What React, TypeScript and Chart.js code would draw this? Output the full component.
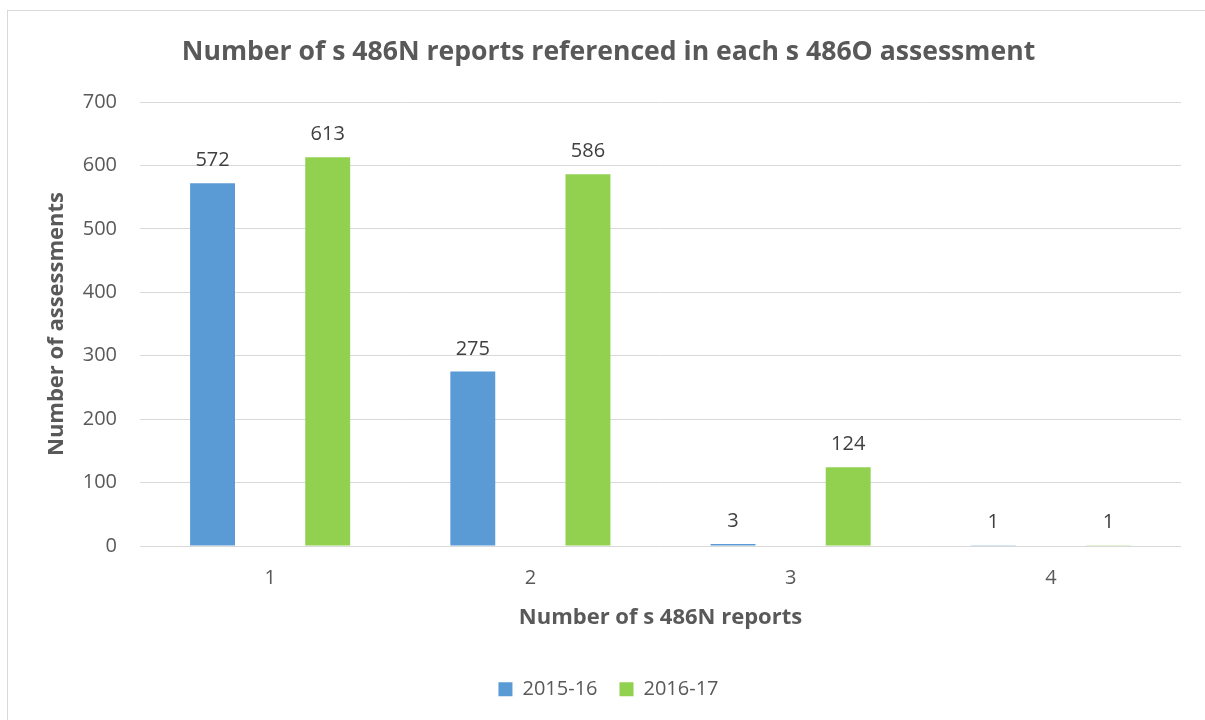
import React, { useEffect, useRef } from "react";
import { Chart, registerables } from "chart.js";

Chart.register(...registerables);

// ---- Data ----
const categories = ["1", "2", "3", "4"];
const seriesNames = ["2015-16", "2016-17"];
const values2015 = [572, 275, 3, 1];
const values2016 = [613, 586, 124, 1];
const yMin = 0;
const yMax = 700;
const yStep = 100;
const chartTitle = "Number of s 486N reports referenced in each s 486O assessment";
const xAxisTitle = "Number of s 486N reports";
const yAxisTitle = "Number of assessments";

const BLUE = "#5B9BD5";
const GREEN = "#92D050";
const TEXT = "#595959";
const LABEL = "#404040";
const GRID = "#D9D9D9";
const FONT = "'Open Sans', 'DejaVu Sans', sans-serif";

const valueLabels = {
  id: "valueLabels",
  afterDatasetsDraw(chart: any) {
    const ctx = chart.ctx;
    ctx.save();
    ctx.font = `20px ${FONT}`;
    ctx.fillStyle = LABEL;
    ctx.textAlign = "center";
    ctx.textBaseline = "alphabetic";
    chart.data.datasets.forEach((ds: any, i: number) => {
      const meta = chart.getDatasetMeta(i);
      meta.data.forEach((el: any, j: number) => {
        ctx.fillText(String(ds.data[j]), el.x, el.y - 17);
      });
    });
    ctx.restore();
  },
};

export default function App() {
  const ref = useRef<HTMLCanvasElement | null>(null);

  useEffect(() => {
    if (!ref.current) return;
    const chart = new Chart(ref.current, {
      type: "bar",
      data: {
        labels: categories,
        datasets: [
          {
            label: seriesNames[0],
            data: values2015,
            backgroundColor: BLUE,
            borderWidth: 0,
            categoryPercentage: 0.885,
            barPercentage: 0.39,
          },
          {
            label: seriesNames[1],
            data: values2016,
            backgroundColor: GREEN,
            borderWidth: 0,
            categoryPercentage: 0.885,
            barPercentage: 0.39,
          },
        ],
      },
      options: {
        responsive: false,
        animation: false,
        layout: { padding: { top: 0, left: 28, right: 37, bottom: 19.7 } },
        plugins: {
          title: {
            display: true,
            text: chartTitle,
            color: TEXT,
            font: { family: FONT, size: 26.6, weight: "bold", lineHeight: 1.2 },
            padding: { top: 25, bottom: 34.1 },
          },
          legend: {
            display: true,
            position: "bottom",
            labels: {
              color: TEXT,
              font: { family: FONT, size: 20 },
              boxWidth: 14,
              boxHeight: 14,
              padding: 22,
            },
          },
          tooltip: { enabled: false },
        },
        scales: {
          x: {
            grid: { display: false, drawTicks: false },
            border: { display: false },
            ticks: { color: TEXT, font: { family: FONT, size: 20 }, padding: 20 },
            title: {
              display: true,
              text: xAxisTitle,
              color: TEXT,
              font: { family: FONT, size: 22, weight: "bold", lineHeight: 1.2 },
              padding: { top: 0, bottom: 26.4 },
            },
            afterFit: (scale: any) => {
              scale.height = 111.3;
            },
          },
          y: {
            min: yMin,
            max: yMax,
            grid: { color: GRID, lineWidth: 1, drawTicks: false },
            border: { display: false },
            ticks: {
              stepSize: yStep,
              color: TEXT,
              font: { family: FONT, size: 20 },
              padding: 23,
            },
            title: {
              display: true,
              text: yAxisTitle,
              color: TEXT,
              font: { family: FONT, size: 22, weight: "bold", lineHeight: 1.2 },
              padding: { top: 8, bottom: 0 },
            },
            afterFit: (scale: any) => {
              scale.width = 104;
            },
          },
        },
      },
      plugins: [valueLabels],
    } as any);
    return () => chart.destroy();
  }, []);

  return (
    <div
      style={{
        position: "fixed",
        left: 0,
        top: 0,
        width: "100vw",
        height: "100vh",
        overflow: "hidden",
        background: "#ffffff",
      }}
    >
      <div
        style={{
          position: "absolute",
          left: 7,
          top: 10,
          width: 1212,
          height: 720,
          border: `1px solid ${GRID}`,
          boxSizing: "border-box",
          background: "#ffffff",
        }}
      >
        <canvas ref={ref} width={1210} height={718} style={{ display: "block" }} />
      </div>
    </div>
  );
}
